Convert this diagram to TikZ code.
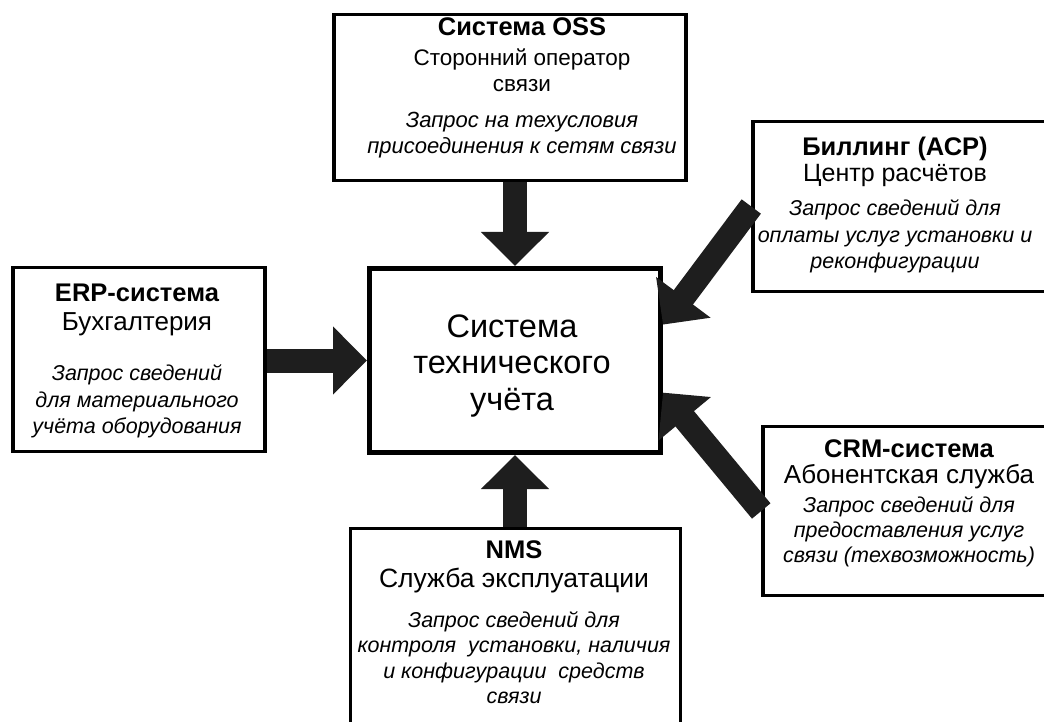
\documentclass[tikz,border=0pt]{standalone}
\usepackage{fontspec}
\setmainfont{Liberation Sans}
\usetikzlibrary{arrows.meta,calc}
\definecolor{arrowgray}{HTML}{1E1E1E}
\newcommand{\sysname}[1]{{\upshape\bfseries\fontsize{25.5}{26}\selectfont #1}}
\newcommand{\unitname}[2][26]{{\upshape\fontsize{#1}{26}\selectfont #2}}

\begin{document}
\begin{tikzpicture}[x=1pt,y=-1pt,
    system/.style ={rectangle, draw, fill=white, line width=3.5pt},
    core/.style ={rectangle, draw, fill=white, line width=5pt},
    caption/.style ={align=center, anchor=base, inner sep=0pt, font=\fontsize{21.5}{26}\selectfont\itshape},
    request/.style ={draw=arrowgray, line width=24pt, -{Triangle[width=66pt,length=34pt]}}]
   \useasboundingbox (0,0) rectangle (1044,722);
   \clip (0,0) rectangle (1044,722);
   \node[system, minimum width=352pt, minimum height=166pt] (oss) at (510,97.5) {};
   \node[system, minimum width=306pt, minimum height=170pt] (billing) at (906,206.5) {};
   \node[system, minimum width=252pt, minimum height=184pt] (erp) at (139,359.5) {};
   \node[system, minimum width=296pt, minimum height=169pt] (crm) at (911,511) {};
   \node[system, minimum width=330pt, minimum height=210pt] (nms) at (515.5,633.5) {};
   \node[core, minimum width=291pt, minimum height=184pt] (tech) at (515,360.5) {};
   \node[caption, font=\fontsize{22}{26}\selectfont\itshape] (oss text) at (522,154) {\sysname{Система OSS}\\[4pt]
      \unitname[22.5]{Сторонний оператор}\\ \unitname[22.5]{связи}\\[10pt]
      Запрос на техусловия\\ присоединения к сетям связи};
   \node[caption] (billing text) at (895,268) {\sysname{Биллинг (АСР)}\\
      \unitname[25]{Центр расчётов}\\[8pt]
      Запрос сведений для\\ оплаты услуг установки и\\ реконфигурации};
   \node[caption] (erp text) at (137,433) {\sysname{ERP-система}\\[3pt]
      \unitname{Бухгалтерия}\\[24pt]
      Запрос сведений\\[1pt] для материального\\ учёта оборудования};
   \node[caption] (crm text) at (909,562) {\sysname{CRM-система}\\
      \unitname{Абонентская служба}\\[3pt]
      Запрос сведений для\\[-1pt] предоставления услуг\\[-1pt] связи (техвозможность)};
   \node[caption] (nms text) at (514,703) {\sysname{NMS}\\[3pt]
      \unitname[26.5]{Служба эксплуатации}\\[14pt]
      Запрос сведений для\\[-1pt] контроля\ \ установки, наличия\\
      и конфигурации\ \ средств\\[-1pt] связи};
   \node[caption, font=\fontsize{32.5}{36.5}\selectfont] (tech text) at (512,410) {Система\\ технического\\ учёта};
   \draw[request] (oss.south -| tech.north) -- (tech.north);
   \draw[request] (erp.east |- tech.west) -- (tech.west);
   \draw[request] (nms.north -| tech.south) -- (tech.south);
   \draw[request] (billing.west) -- ($(tech.north east)!0.31!(tech.south east)$);
   \draw[request] (crm.west) -- ($(tech.north east)!0.67!(tech.south east)$);
 \end{tikzpicture}
\end{document}
